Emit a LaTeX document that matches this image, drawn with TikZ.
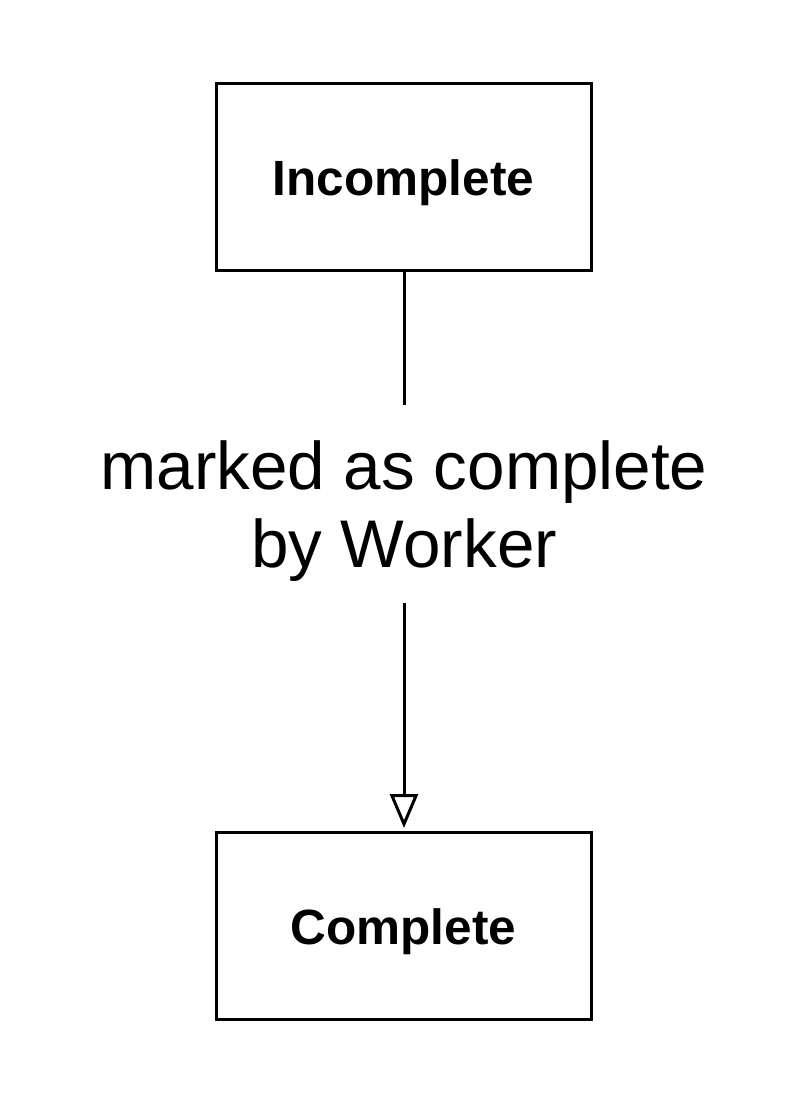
\documentclass[tikz,border=0pt]{standalone}
\usepackage{fontspec}
\setmainfont{Liberation Sans}
\usetikzlibrary{arrows.meta}
\begin{document}
\begin{tikzpicture}[x=1pt,y=1pt,
  statebox/.style={draw=black, line width=3pt, minimum width=375pt, minimum height=187pt, inner sep=0pt,
    text height=47pt, text depth=10pt,
    font=\fontsize{49.5}{57}\selectfont\bfseries},
  translabel/.style={align=center, inner sep=0pt,
    font=\fontsize{67.4}{77.5}\selectfont},
  conn/.style={line width=3pt}]
\useasboundingbox (0,0) rectangle (808,-1104);
\node[statebox] (inc) at (403.5,-176.5) {Incomplete};
\node[statebox] (comp) at (403.5,-926) {Complete};
\node[translabel] (lbl) at (404,-511) {marked as complete\\by Worker};
\coordinate (la) at (404,-405);
\coordinate (lb) at (404,-603);
\draw[conn] (inc.south -| la) -- (la);
\draw[conn, -{Triangle[open, length=34pt, width=28pt, line width=3pt]}, shorten >=3pt] (lb) -- (lb |- comp.north);
\end{tikzpicture}
\end{document}
